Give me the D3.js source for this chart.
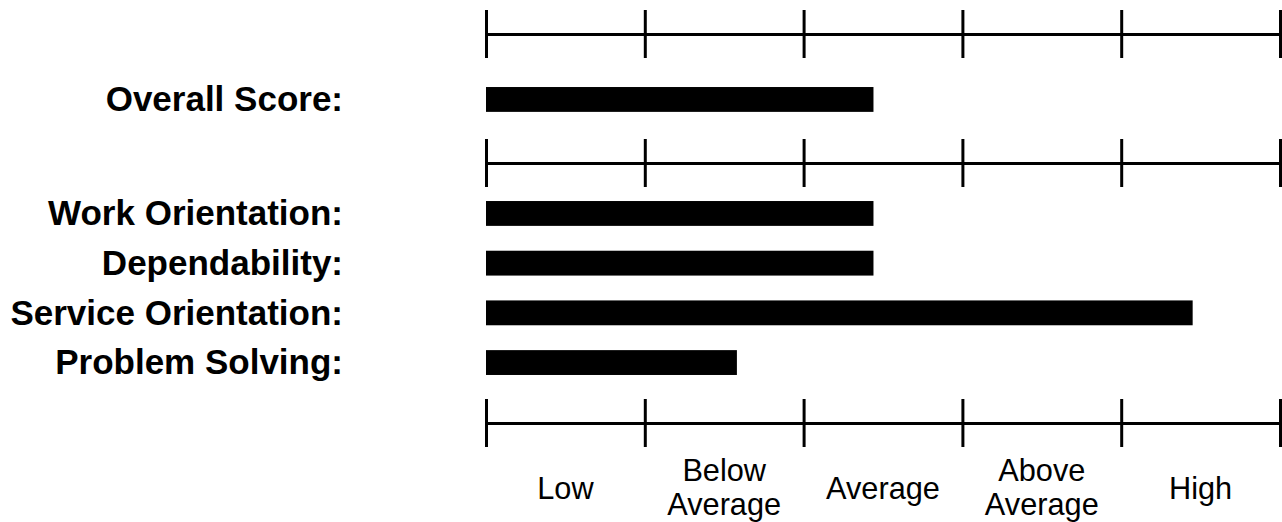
<!DOCTYPE html>
<html>
<head>
  <title>Score Profile</title>
  <script src="https://cdn.jsdelivr.net/npm/d3@7/dist/d3.min.js"></script>
  <style>
    body { margin: 0; background: #fff; }
    .axis path, .axis line {
      fill: none;
      stroke: #000;
      stroke-width: 3px;
    }
    .row-label {
      font-family: "Liberation Sans", Arial, sans-serif;
      font-weight: bold;
      font-size: 35px;
      text-anchor: end;
    }
    .level-label {
      font-family: "Liberation Sans", Arial, sans-serif;
      font-size: 32px;
      text-anchor: middle;
    }
  </style>
</head>
<body>
  <div id="chart"></div>

  <script>
    // data
    const overallLabel = ['Overall Score:'];
    const overallValues = [2.44];

    const scaleLabels = ['Work Orientation:', 'Dependability:', 'Service Orientation:', 'Problem Solving:'];
    const scaleValues = [2.44, 2.44, 4.45, 1.58];

    const levelLabels = [['Low'], ['Below', 'Average'], ['Average'], ['Above', 'Average'], ['High']];
    const levelTicks = [0, 1, 2, 3, 4, 5];

    const width = 1282;
    const height = 522;

    const svg = d3.select('#chart')
      .append('svg')
      .attr('width', width)
      .attr('height', height);

    const x = d3.scaleLinear()
      .domain([0, 5])
      .range([486, 1280]);

    // y bands: one for the overall row, one for the four sub-scales
    const yTop = d3.scaleBand()
      .domain(overallLabel)
      .range([74.6, 124.3])
      .paddingInner(0.5)
      .paddingOuter(0.25);

    const yRows = d3.scaleBand()
      .domain(scaleLabels)
      .range([188.6, 387.4])
      .paddingInner(0.5)
      .paddingOuter(0.25);

    // the three rulers, ticks going both up and down
    [34, 163, 423].forEach(function(yPos) {
      svg.append('g')
        .attr('class', 'axis')
        .attr('transform', `translate(0,${yPos})`)
        .call(d3.axisBottom(x).tickValues(levelTicks).tickSize(24).tickSizeOuter(0).tickFormat(''));
      svg.append('g')
        .attr('class', 'axis')
        .attr('transform', `translate(0,${yPos})`)
        .call(d3.axisTop(x).tickValues(levelTicks).tickSize(24).tickSizeOuter(0).tickFormat(''));
    });

    // bars
    svg.selectAll('.bar-top')
      .data(overallValues)
      .enter().append('rect')
      .attr('x', x(0))
      .attr('y', (d, i) => yTop(overallLabel[i]))
      .attr('width', d => x(d) - x(0))
      .attr('height', yTop.bandwidth())
      .attr('fill', '#000');

    svg.selectAll('.bar-row')
      .data(scaleValues)
      .enter().append('rect')
      .attr('x', x(0))
      .attr('y', (d, i) => yRows(scaleLabels[i]))
      .attr('width', d => x(d) - x(0))
      .attr('height', yRows.bandwidth())
      .attr('fill', '#000');

    // row labels
    svg.selectAll('.label-top')
      .data(overallLabel)
      .enter().append('text')
      .attr('class', 'row-label')
      .attr('x', 343)
      .attr('y', d => yTop(d) + yTop.bandwidth() - 0.5)
      .text(d => d);

    svg.selectAll('.label-row')
      .data(scaleLabels)
      .enter().append('text')
      .attr('class', 'row-label')
      .attr('x', 343)
      .attr('y', d => yRows(d) + yRows.bandwidth() - 0.5)
      .text(d => d);

    // level labels under the bottom ruler
    const lv = svg.selectAll('.level')
      .data(levelLabels)
      .enter().append('text')
      .attr('class', 'level-label')
      .attr('transform', (d, i) => `translate(${x(i + 0.5)},0) scale(0.96,1)`);

    lv.each(function(lines) {
      const t = d3.select(this);
      const base = lines.length === 1 ? 499 : 481;
      lines.forEach(function(line, j) {
        t.append('tspan')
          .attr('x', 0)
          .attr('y', base + j * 34)
          .text(line);
      });
    });
  </script>
</body>
</html>
